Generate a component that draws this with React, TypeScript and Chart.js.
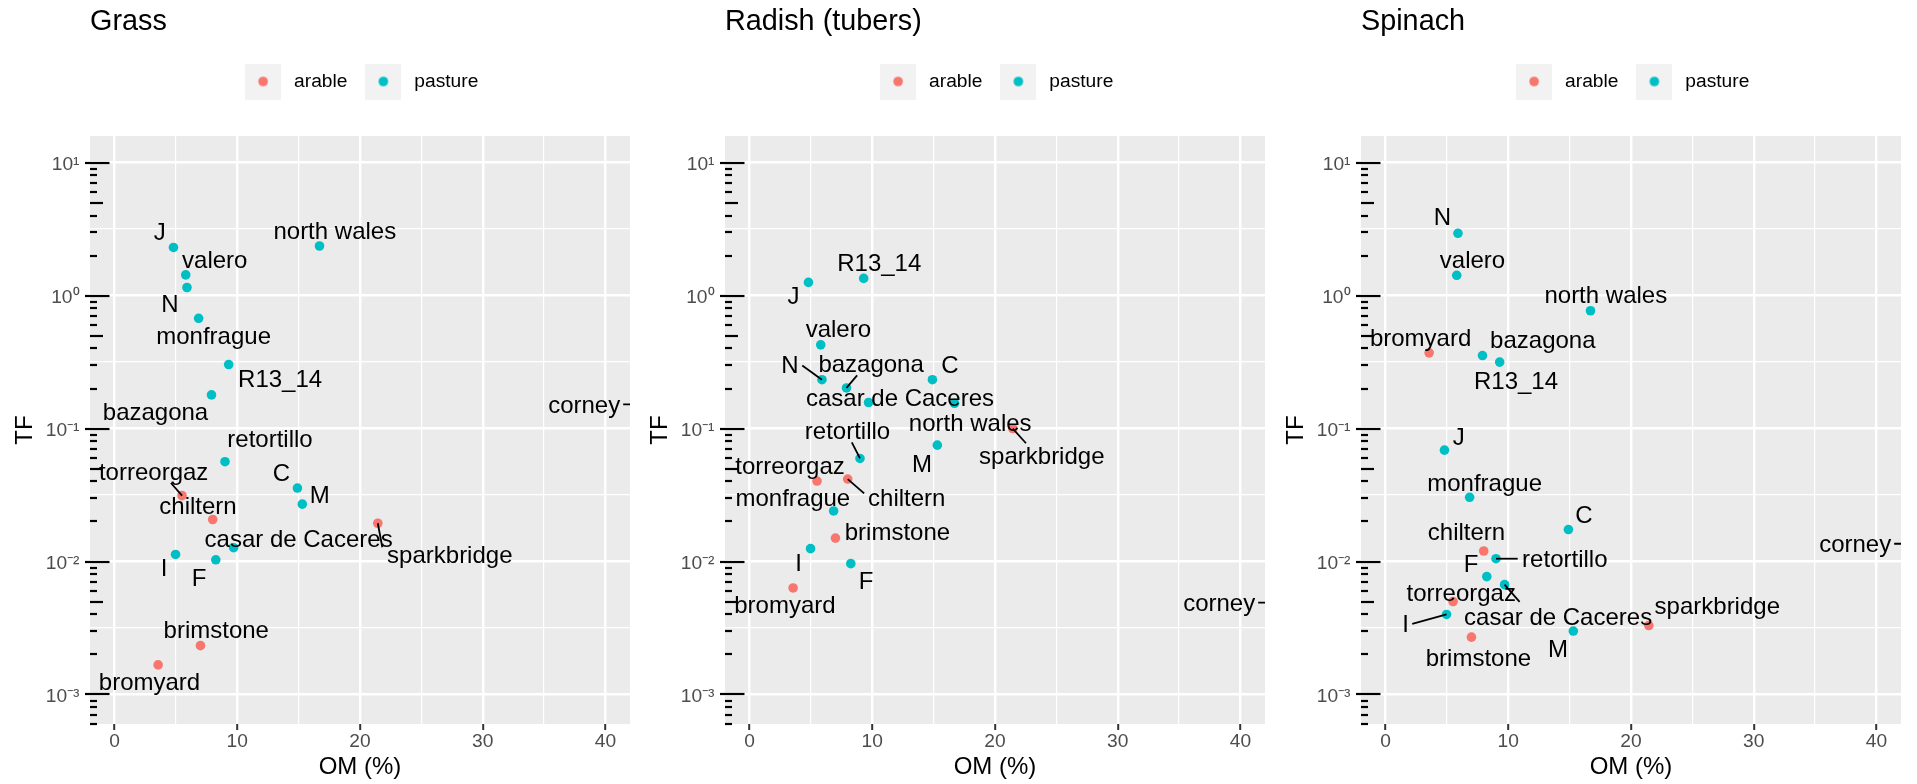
import React, { useEffect, useRef } from 'react';
import { Chart, registerables } from 'chart.js';

Chart.register(...registerables);

// ---------------- data ----------------
const SITES = ['J', 'N', 'valero', 'monfrague', 'R13_14', 'bazagona', 'retortillo', 'C', 'M', 'torreorgaz', 'chiltern', 'sparkbridge', 'casar de Caceres', 'I', 'F', 'brimstone', 'bromyard', 'north wales', 'corney'];
const LAND_USE = ['pasture', 'pasture', 'pasture', 'pasture', 'pasture', 'pasture', 'pasture', 'pasture', 'pasture', 'arable', 'arable', 'arable', 'pasture', 'pasture', 'pasture', 'arable', 'arable', 'pasture', 'pasture'];
// OM (%) per site (corney lies beyond the plotted range)
const OM_PCT = [4.8, 5.9, 5.8, 6.85, 9.3, 7.9, 9.0, 14.9, 15.3, 5.5, 8.0, 21.45, 9.7, 4.97, 8.25, 7.0, 3.55, 16.7, 50];
const TF_GRASS = [2.3, 1.15, 1.43, 0.675, 0.303, 0.179, 0.0563, 0.0357, 0.027, 0.0313, 0.0207, 0.0194, 0.0127, 0.0113, 0.0103, 0.00233, 0.00167, 2.36, 0.152];
const TF_RADISH = [1.256, 0.233, 0.426, 0.024, 1.346, 0.202, 0.0596, 0.233, 0.075, 0.0403, 0.0417, 0.1, 0.157, 0.0125, 0.00964, 0.015, 0.00633, 0.155, 0.0049];
const TF_SPINACH = [0.0688, 2.94, 1.42, 0.0304, 0.316, 0.354, 0.0105, 0.0174, 0.003, 0.005, 0.012, 0.0033, 0.0067, 0.004, 0.0077, 0.0027, 0.371, 0.769, 0.0136];

const GROUPS = ['arable', 'pasture'];
const PANEL_TITLES = ['Grass', 'Radish (tubers)', 'Spinach'];

const X_TICKS = [0, 10, 20, 30, 40];
const X_MINOR = [5, 15, 25, 35];
const Y_TICKS = [1e-3, 1e-2, 1e-1, 1, 10];
const Y_TICK_LABELS = ['10⁻³', '10⁻²', '10⁻¹', '10⁰', '10¹'];

// ---------------- layout / style ----------------
const FONT = "'Liberation Sans', Arial, Helvetica, sans-serif";
const COLORS: Record<string, string> = { arable: '#F8766D', pasture: '#00BFC4' };
const X_MIN = -2;
const X_MAX = 42;
const Y_MIN = Math.pow(10, -3.2);
const Y_MAX = Math.pow(10, 1.2);
const Y_MINOR = [-2.5, -1.5, -0.5, 0.5].map((e) => Math.pow(10, e));
const PANEL_LEFT = [0, 635, 1271];
const CANVAS_W = 636;
const CANVAS_H = 784;

// label placement (pixel offset of label centre from its point; optional segment end offset)
type LabelPos = number[];
const LABELS_GRASS: Record<string, LabelPos> = {
  J: [-13.6, -15.8], 'north wales': [15.3, -15.7], valero: [29, -16], N: [-17, 15.7],
  monfrague: [15, 17.5], R13_14: [51.4, 14.3], bazagona: [-56, 16.7], retortillo: [45, -23],
  C: [-16, -15.7], M: [17.5, -10], torreorgaz: [-28.4, -23.8, -11.1, -12.6], chiltern: [-14.7, -14.3],
  'casar de Caceres': [65, -9.4], sparkbridge: [72, 31, 4.5, 24], I: [-11.4, 12.7], F: [-16.8, 17.6],
  brimstone: [15.8, -16], bromyard: [-8.6, 16.7], corney: [-144, 0, -105, 0],
};
const LABELS_RADISH: Record<string, LabelPos> = {
  J: [-14.9, 13.4], R13_14: [15.6, -16], valero: [17.6, -16.3], N: [-32, -15.7, -19.7, -14.3],
  bazagona: [24.6, -24.3, 10.6, -12.6], C: [17.6, -15.2], 'casar de Caceres': [31.4, -5],
  'north wales': [15.7, 19.3], retortillo: [-12.5, -27.7, -8.2, -16], M: [-15.4, 17.8],
  sparkbridge: [29, 27.3, 13.2, 14.7], torreorgaz: [-27, -15.9], chiltern: [59, 18.6, 16.4, 14.3],
  monfrague: [-40.8, -13.4], brimstone: [62, -6.5], I: [-12, 14], F: [15.2, 16.7],
  bromyard: [-8.2, 16.8], corney: [-144, 0, -105, 0],
};
const LABELS_SPINACH: Record<string, LabelPos> = {
  N: [-15.6, -17.3], valero: [15.8, -16], 'north wales': [15.3, -16], bromyard: [-8.5, -15.7],
  bazagona: [60.3, -15.9], R13_14: [16.3, 18], J: [14.2, -13.5], monfrague: [15, -15],
  C: [15.6, -15.6], chiltern: [-17.2, -19.9], retortillo: [68.8, 0, 21.7, 0], F: [-15.7, -12.8],
  'casar de Caceres': [53.5, 31.6, 15, 17.3], torreorgaz: [8.2, -9.1], I: [-41, 8.9, -34.3, 9.4],
  brimstone: [7, 20.7], M: [-15.4, 17.2], sparkbridge: [68.5, -20.4], corney: [-144, 0, -105, 0],
};

const PANELS = [
  { title: PANEL_TITLES[0], tf: TF_GRASS, labels: LABELS_GRASS },
  { title: PANEL_TITLES[1], tf: TF_RADISH, labels: LABELS_RADISH },
  { title: PANEL_TITLES[2], tf: TF_SPINACH, labels: LABELS_SPINACH },
];

const isMajorY = (v: number) => v !== undefined && Math.abs(Math.log10(v) - Math.round(Math.log10(v))) < 1e-6;

const panelBg = {
  id: 'panelBg',
  beforeDraw(chart: any) {
    const { ctx, chartArea: a } = chart;
    ctx.save();
    ctx.fillStyle = '#EBEBEB';
    ctx.fillRect(a.left, a.top, a.right - a.left, a.bottom - a.top);
    ctx.restore();
  },
};

const logTicks = {
  id: 'logTicks',
  afterDraw(chart: any) {
    const { ctx, chartArea: a, scales } = chart;
    const y = scales.y;
    ctx.save();
    ctx.strokeStyle = '#000000';
    ctx.lineWidth = 2.2;
    for (let k = -4; k <= 1; k++) {
      for (let m = 1; m <= 9; m++) {
        const v = m * Math.pow(10, k);
        if (v < y.min || v > y.max) continue;
        const py = Math.round(y.getPixelForValue(v));
        let x0 = a.left;
        let x1 = a.left + 7;
        if (m === 1) {
          x0 = a.left - 5;
          x1 = a.left + 19.5;
        } else if (m === 5) {
          x1 = a.left + 13;
        }
        ctx.beginPath();
        ctx.moveTo(x0, py);
        ctx.lineTo(x1, py);
        ctx.stroke();
      }
    }
    ctx.restore();
  },
};

function makeLabelPlugin(tf: number[], layout: Record<string, LabelPos>) {
  return {
    id: 'repelLabels',
    afterDatasetsDraw(chart: any) {
      const { ctx, chartArea: a, scales } = chart;
      const { x, y } = scales;
      ctx.save();
      ctx.beginPath();
      ctx.rect(a.left, a.top, a.right - a.left, a.bottom - a.top);
      ctx.clip();
      ctx.font = `24px ${FONT}`;
      ctx.fillStyle = '#000000';
      ctx.strokeStyle = '#000000';
      ctx.lineWidth = 1.8;
      ctx.textAlign = 'center';
      ctx.textBaseline = 'alphabetic';
      SITES.forEach((s, i) => {
        const L = layout[s];
        if (!L) return;
        const px = x.getPixelForValue(OM_PCT[i]);
        const py = y.getPixelForValue(tf[i]);
        if (L.length > 2) {
          ctx.beginPath();
          ctx.moveTo(px, py);
          ctx.lineTo(px + L[2], py + L[3]);
          ctx.stroke();
        }
        ctx.fillText(s, px + L[0], py + L[1] + 8.6);
      });
      ctx.restore();
    },
  };
}

function makeKey(color: string) {
  const c = document.createElement('canvas');
  c.width = 36;
  c.height = 36;
  const g = c.getContext('2d')!;
  g.fillStyle = '#F2F2F2';
  g.fillRect(0, 0, 36, 36);
  g.fillStyle = color;
  g.beginPath();
  g.arc(18, 18, 4.8, 0, Math.PI * 2);
  g.fill();
  return c;
}

function buildConfig(panel: any) {
  const keys = GROUPS.map((g) => makeKey(COLORS[g]));
  const datasets = GROUPS.map((g) => ({
    label: g,
    data: SITES.map((s, i) => ({ x: OM_PCT[i], y: panel.tf[i], g: LAND_USE[i] }))
      .filter((d) => d.g === g)
      .map((d) => ({ x: d.x, y: d.y })),
    backgroundColor: COLORS[g],
    pointBackgroundColor: COLORS[g],
    pointRadius: 4.8,
    pointHoverRadius: 4.8,
    pointBorderWidth: 0,
    borderWidth: 0,
    showLine: false,
  }));
  return {
    type: 'scatter',
    data: { datasets },
    options: {
      responsive: false,
      animation: false,
      devicePixelRatio: 1,
      events: [],
      layout: { padding: { left: 0, right: 6, top: 0, bottom: 0 } },
      scales: {
        x: {
          type: 'linear',
          min: X_MIN,
          max: X_MAX,
          afterBuildTicks: (s: any) => {
            s.ticks = [...X_TICKS, ...X_MINOR].sort((p, q) => p - q).map((v) => ({ value: v }));
          },
          afterFit: (s: any) => {
            s.height = 60;
          },
          ticks: {
            autoSkip: false,
            maxRotation: 0,
            padding: 0.5,
            color: '#4D4D4D',
            font: { family: FONT, size: 19.2 },
            callback: (v: number) => (X_TICKS.includes(v) ? String(v) : ''),
          },
          grid: {
            color: '#FFFFFF',
            lineWidth: (c: any) => (c.tick && X_TICKS.includes(c.tick.value) ? 2.4 : 1.2),
            drawTicks: true,
            tickLength: 6,
            tickWidth: 2,
            tickColor: (c: any) => (c.tick && X_TICKS.includes(c.tick.value) ? '#333333' : 'rgba(0,0,0,0)'),
          },
          border: { display: false },
          title: {
            display: true,
            text: 'OM (%)',
            color: '#000000',
            font: { family: FONT, size: 24 },
            padding: { top: 0, bottom: 2 },
          },
        },
        y: {
          type: 'logarithmic',
          min: Y_MIN,
          max: Y_MAX,
          afterBuildTicks: (s: any) => {
            s.ticks = [...Y_TICKS, ...Y_MINOR].sort((p, q) => p - q).map((v) => ({ value: v }));
          },
          afterFit: (s: any) => {
            s.width = 90;
          },
          ticks: {
            autoSkip: false,
            padding: 10.5,
            labelOffset: 2.5,
            color: '#4D4D4D',
            font: { family: FONT, size: 19.2 },
            callback: (v: number) => {
              const i = Y_TICKS.findIndex((t) => Math.abs(t - v) / t < 1e-6);
              return i >= 0 ? Y_TICK_LABELS[i] : '';
            },
          },
          grid: {
            color: '#FFFFFF',
            lineWidth: (c: any) => (c.tick && isMajorY(c.tick.value) ? 2.4 : 1.2),
            drawTicks: false,
          },
          border: { display: false },
          title: {
            display: true,
            text: 'TF',
            color: '#000000',
            font: { family: FONT, size: 24 },
            padding: { top: 11.2, bottom: 0 },
          },
        },
      },
      plugins: {
        tooltip: { enabled: false },
        title: {
          display: true,
          text: panel.title,
          align: 'start',
          fullSize: false,
          color: '#000000',
          font: { family: FONT, size: 28.8, weight: 'normal' },
          padding: { top: 4.5, bottom: 18.34 },
        },
        legend: {
          display: true,
          position: 'top',
          align: 'center',
          fullSize: false,
          labels: {
            usePointStyle: true,
            pointStyleWidth: 42.8,
            padding: 14.5,
            color: '#000000',
            font: { family: FONT, size: 19.2 },
            generateLabels: (chart: any) =>
              chart.data.datasets.map((ds: any, i: number) => ({
                text: ds.label,
                pointStyle: keys[i],
                fillStyle: ds.backgroundColor,
                strokeStyle: 'rgba(0,0,0,0)',
                lineWidth: 0,
                hidden: false,
                datasetIndex: i,
                fontColor: '#000000',
              })),
          },
        },
        subtitle: {
          display: true,
          text: '',
          position: 'top',
          weight: 100,
          fullSize: false,
          font: { family: FONT, size: 10 },
          padding: { top: 0, bottom: 22.9 },
        },
      },
    },
    plugins: [panelBg, makeLabelPlugin(panel.tf, panel.labels), logTicks],
  };
}

function Panel({ panel, left }: { panel: any; left: number }) {
  const ref = useRef<HTMLCanvasElement | null>(null);
  useEffect(() => {
    if (!ref.current) return;
    const chart = new Chart(ref.current, buildConfig(panel) as any);
    return () => chart.destroy();
  }, [panel]);
  return (
    <canvas
      ref={ref}
      width={CANVAS_W}
      height={CANVAS_H}
      style={{ position: 'absolute', left, top: 0, width: CANVAS_W, height: CANVAS_H, display: 'block' }}
    />
  );
}

export default function App() {
  return (
    <div
      style={{
        position: 'absolute',
        left: 0,
        top: 0,
        width: 1917,
        height: 784,
        background: '#FFFFFF',
        overflow: 'hidden',
      }}
    >
      {PANELS.map((p, i) => (
        <Panel key={p.title} panel={p} left={PANEL_LEFT[i]} />
      ))}
    </div>
  );
}
